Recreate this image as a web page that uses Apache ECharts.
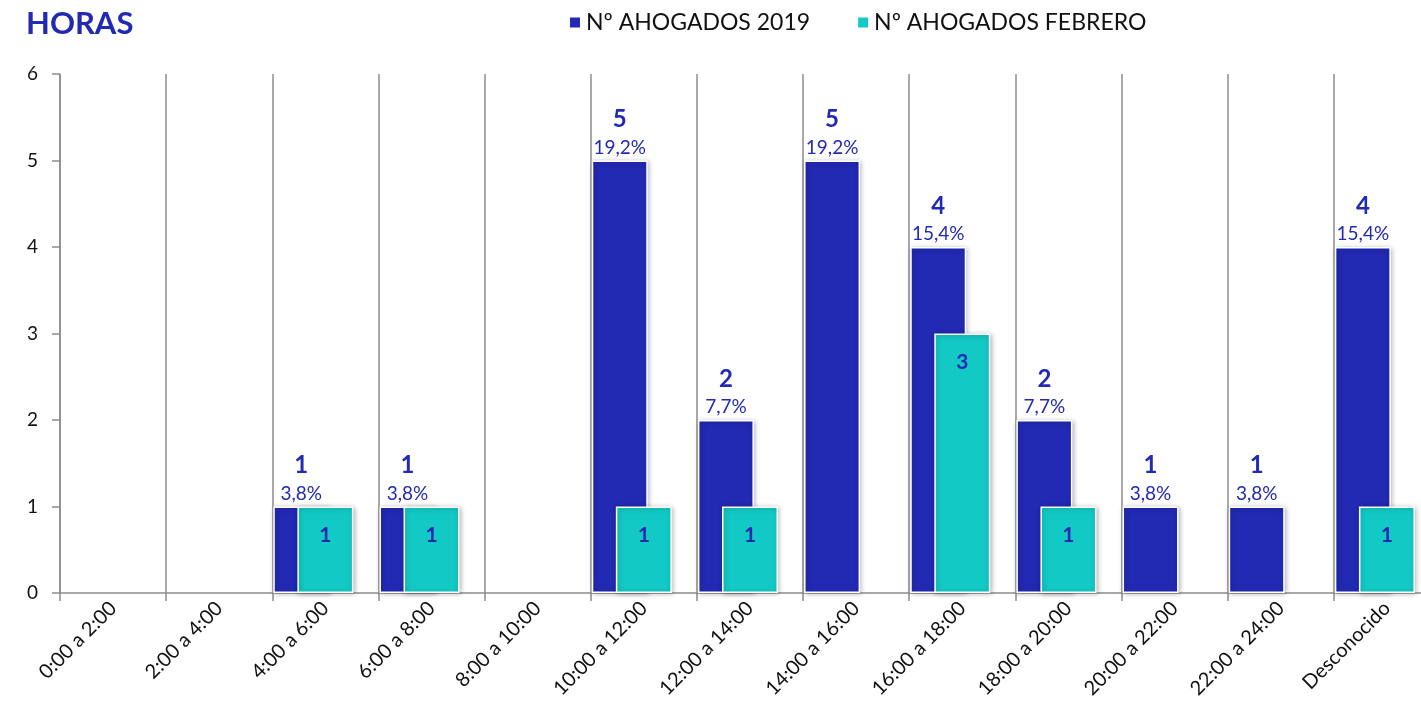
<!DOCTYPE html>
<html>
<head>
<meta charset="utf-8">
<script src="https://cdn.jsdelivr.net/npm/echarts@6/dist/echarts.min.js"></script>
<style>
html,body{margin:0;padding:0;background:#fff;}
#chart{width:1421px;height:713px;}
</style>
</head>
<body>
<div id="chart"></div>
<script>
var horas = ['0:00 a 2:00','2:00 a 4:00','4:00 a 6:00','6:00 a 8:00','8:00 a 10:00','10:00 a 12:00','12:00 a 14:00','14:00 a 16:00','16:00 a 18:00','18:00 a 20:00','20:00 a 22:00','22:00 a 24:00','Desconocido'];
var ahogados2019 = ['-','-',1,1,'-',5,2,5,4,2,1,1,4];
var ahogadosFebrero = ['-','-',1,1,'-',1,1,'-',3,1,'-','-',1];
var porcentajes = ['','','3,8%','3,8%','','19,2%','7,7%','19,2%','15,4%','7,7%','3,8%','3,8%','15,4%'];
var huecos = ['-','-','-','-','-','-','-','-','-','-','-','-','-'];

var azul = '#2229b2',
	cian = '#13c9c5',
	gris = '#8c8c8c',
	fuente = 'Lato, "Open Sans", sans-serif';

var barStyle = function(color){
	return {
		color: color,
		borderColor: '#fff',
		borderWidth: 1.5,
		shadowBlur: 5,
		shadowColor: 'rgba(0,0,0,0.3)',
		shadowOffsetX: 1,
		shadowOffsetY: 1
	};
};

var myChart = echarts.init(document.getElementById('chart'));
var option = {
	backgroundColor: '#fff',
	animation: false,
	textStyle: {fontFamily: fuente},
	title: {
		text: 'HORAS',
		left: 21, top: 3,
		textStyle: {color: azul, fontSize: 31, fontWeight: 'bold', fontFamily: fuente}
	},
	legend: {
		data: ['Nº AHOGADOS 2019', 'Nº AHOGADOS FEBRERO'],
		left: 563, top: 6,
		icon: 'rect',
		itemWidth: 12, itemHeight: 12,
		itemGap: 46,
		textStyle: {color: '#111', fontSize: 23, fontFamily: fuente}
	},
	grid: {left: 60, width: 1380, top: 74, bottom: 120, outerBoundsMode: 'none'},
	xAxis: {
		type: 'category',
		data: horas,
		axisLine: {lineStyle: {color: gris, width: 1.5}},
		axisTick: {show: true, length: 8, lineStyle: {color: gris, width: 1.5}},
		splitLine: {show: true, lineStyle: {color: gris, width: 1.5}},
		axisLabel: {rotate: 45, color: '#111', fontSize: 20, margin: 12, interval: 0, fontFamily: fuente}
	},
	yAxis: {
		type: 'value',
		min: 0, max: 6, interval: 1,
		axisLine: {show: true, lineStyle: {color: gris, width: 1.5}},
		axisTick: {show: true, length: 8, lineStyle: {color: gris, width: 1.5}},
		splitLine: {show: false},
		axisLabel: {color: '#111', fontSize: 19, margin: 22, fontFamily: fuente}
	},
	series: [
		{
			name: 'Nº AHOGADOS 2019',
			type: 'bar',
			data: ahogados2019,
			barWidth: 56,
			barGap: '-57%',
			itemStyle: barStyle(azul),
			label: {
				show: true,
				position: 'top',
				distance: 2,
				formatter: function(p){
					return '{n|' + p.value + '}\n{p|' + porcentajes[p.dataIndex] + '}';
				},
				rich: {
					n: {fontSize: 24, fontWeight: 'bold', color: azul, lineHeight: 34, fontFamily: fuente},
					p: {fontSize: 19, color: azul, lineHeight: 22, fontFamily: fuente}
				}
			}
		},
		{
			name: 'Nº AHOGADOS FEBRERO',
			type: 'bar',
			data: ahogadosFebrero,
			barWidth: 56,
			barGap: '-57%',
			itemStyle: barStyle(cian),
			label: {
				show: true,
				position: 'insideTop',
				distance: 18,
				color: azul,
				fontSize: 21,
				fontWeight: 'bold',
				fontFamily: fuente
			}
		},
		{ // hueco para desplazar el grupo a la izquierda
			name: 'hueco',
			type: 'bar',
			data: huecos,
			barWidth: 56,
			barGap: '-57%',
			silent: true,
			itemStyle: {color: 'transparent'}
		}
	]
};
myChart.setOption(option);
</script>
</body>
</html>
